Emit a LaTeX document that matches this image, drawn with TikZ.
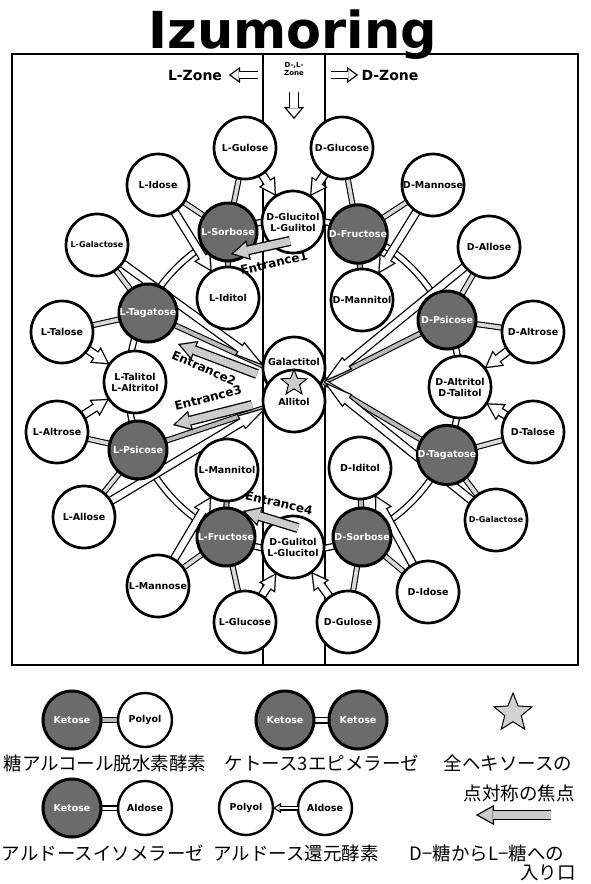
\documentclass[tikz,border=0pt]{standalone}
\usepackage{fontspec}
\newfontfamily\djv{DejaVu Sans}
\newfontfamily\cjk{Noto Sans CJK JP}
\usetikzlibrary{arrows.meta,shapes.geometric,calc}
\pgfdeclarelayer{bgA}\pgfdeclarelayer{bgB}\pgfsetlayers{bgA,bgB,main}
\newcommand\lab{\djv\bfseries\fontsize{9.5}{11}\selectfont}
\newcommand\slab{\djv\bfseries\fontsize{8}{10}\selectfont}
% block arrow: #1 shaft, #2 head width, #3 head length, #4 fill, #5 from, #6 to
\newcommand\blockarrow[6]{%
 \draw[line width=#1pt, -{Triangle[length=#3pt,width=#2pt,line width=0.1pt]}] (#5) -- (#6);
 \pgfmathsetmacro\ha{#2/2}\pgfmathsetmacro\al{atan(\ha/#3)}%
 \pgfmathsetmacro\tb{1.3/sin(\al)}%
 \pgfmathsetmacro\wl{#3-1.3-\tb}%
 \pgfmathsetmacro\ww{2*(\ha*(#3-1.3)/#3 - 1.3/cos(\al))}%
 \pgfmathsetmacro\sw{#1-2.6}%
 \draw[#4, line width=\sw pt, shorten >=\tb pt, -{Triangle[length=\wl pt,width=\ww pt,line width=0.1pt]}] (#5) -- (#6);
}
\begin{document}
\begin{tikzpicture}[x=1pt,y=-1pt,
  ald/.style={circle, draw, line width=2.7pt, fill=white, minimum size=62pt, inner sep=0pt, outer sep=0pt, font=\lab, align=center},
  pol/.style={ald},
  ket/.style={ald, fill=black!58, text=white, minimum size=58pt, line width=3pt},
  iso/.style={draw=black, line width=1.1pt, double=gray!30, double distance=3.8pt},
  dh/.style={draw=black, line width=1.1pt, double=gray!55, double distance=3.8pt},
  ringline/.style={draw=black, line width=1.3pt, double=white, double distance=4.4pt},
  kk/.style={draw=black, line width=1.3pt, double=white, double distance=4.4pt},
  ka/.style={draw=black, line width=1.1pt, double=white, double distance=3pt},
  etext/.style={font=\djv\bfseries\fontsize{12}{12}\selectfont},
  ztext/.style={font=\djv\bfseries\fontsize{14}{14}\selectfont},
  jp/.style={font=\cjk\fontsize{18.5}{20}\selectfont, inner sep=0pt},
  lstar/.style={star, star points=5, star point ratio=2.3, draw, line width=1pt, fill=gray!40, inner sep=0pt}
]
\useasboundingbox (0,0) rectangle (591,884);

% title
\node[font=\djv\bfseries\fontsize{51}{51}\selectfont, anchor=base, inner sep=0pt] (title) at (293,48) {Izumoring};

% zone labels
\node[ztext] (lzone) at (195,75) {L-Zone};
\node[ztext] (dzone) at (390,75) {D-Zone};
\node[font=\djv\bfseries\fontsize{7}{8}\selectfont, align=center] (dlzone) at (294,69) {D-,L-\\Zone};
\coordinate (lzs) at (258,75); \coordinate (lzt) at (229,75);
\coordinate (dzs) at (331,75); \coordinate (dzt) at (358,75);
\coordinate (dns) at (294,92); \coordinate (dnt) at (294,119);

% nodes
\node[ald] (lgul) at (245,148) {L-Gulose};
\node[ald] (dglc) at (342,148) {D-Glucose};
\node[ald] (lido) at (158,185) {L-Idose};
\node[ald] (dman) at (433,185) {D-Mannose};
\node[ket] (lsor) at (228,232) {L-Sorbose};
\node[pol] (dglct) at (293,222) {D-Glucitol\\L-Gulitol};
\node[ket] (dfru) at (358,234) {D-Fructose};
\node[ald, font=\slab] (lgala) at (97,245) {L-Galactose};
\node[ald] (dallo) at (489,247) {D-Allose};
\node[pol] (lidt) at (228,298) {L-Iditol};
\node[pol] (dmant) at (362,300) {D-Mannitol};
\node[ket] (ltag) at (148,313) {L-Tagatose};
\node[ket] (dpsi) at (447,320) {D-Psicose};
\node[ald] (ltal) at (62,332) {L-Talose};
\node[ald] (dalt) at (533,332) {D-Altrose};
\node[pol] (galt) at (294,368) {};
\node[pol] (allt) at (294,401) {};
\node[font=\lab] (galtT) at (294,362) {Galactitol};
\node[font=\lab] (alltT) at (294,402) {Allitol};
\node[pol] (ltalt) at (135,382) {L-Talitol\\L-Altritol};
\node[pol] (daltt) at (460,387) {D-Altritol\\D-Talitol};
\node[ald] (lalt) at (57,432) {L-Altrose};
\node[ald] (dtal) at (533,432) {D-Talose};
\node[ket] (lpsi) at (138,450) {L-Psicose};
\node[ket] (dtag) at (447,455) {D-Tagatose};
\node[pol] (lmant) at (227,470) {L-Mannitol};
\node[pol] (didt) at (360,468) {D-Iditol};
\node[ald] (lallo) at (84,517) {L-Allose};
\node[ald, font=\slab] (dgala) at (496,520) {D-Galactose};
\node[ket] (lfru) at (226,537) {L-Fructose};
\node[pol] (dgult) at (293,547) {D-Gulitol\\L-Glucitol};
\node[ket] (dsor) at (362,537) {D-Sorbose};
\node[ald] (lman) at (158,586) {L-Mannose};
\node[ald] (dido) at (428,592) {D-Idose};
\node[ald] (lglc) at (245,622) {L-Glucose};
\node[ald] (dgul) at (348,622) {D-Gulose};
\node[lstar, minimum size=27pt] (cstar) at (294,383) {};

\coordinate (gL) at (264,366);
\coordinate (aL) at (267,407);
\coordinate (cR) at (324,382);

\begin{pgfonlayer}{bgA}
 \fill[white] (0,0) rectangle (591,884);
 \draw[line width=1.3pt] (12,54) rectangle (578,665);
 \draw[line width=1.3pt] (263,54) -- (263,665);
 \draw[line width=1.3pt] (325,54) -- (325,665);
 \draw[ringline] (294,385) circle[radius=166pt];
\end{pgfonlayer}

\begin{pgfonlayer}{bgB}
 % isomerase
 \foreach \a/\b in {lgul/lsor, lido/lsor, dglc/dfru, dman/dfru, lgala/ltag, ltal/ltag,
   dallo/dpsi, dalt/dpsi, lalt/lpsi, lallo/lpsi, dtal/dtag, dgala/dtag,
   lman/lfru, lglc/lfru, dido/dsor, dgul/dsor}
   \draw[iso] (\a) -- (\b);
 % dehydrogenase
 \foreach \a/\b in {lsor/lidt, dfru/dmant, lfru/lmant, dsor/didt, ltag/gL, lpsi/aL, dpsi/cR, dtag/cR}
   \draw[dh] (\a) -- (\b);
 % reductase arrows
 \blockarrow{9}{19}{17}{white}{lgul}{dglct}
 \blockarrow{9}{19}{17}{white}{dglc}{dglct}
 \blockarrow{9}{19}{18}{white}{lido}{lidt}
 \blockarrow{9}{19}{18}{white}{dman}{dmant}
 \blockarrow{9}{19}{17}{white}{ltal}{ltalt}
 \blockarrow{9}{19}{17}{white}{lalt}{ltalt}
 \blockarrow{9}{19}{17}{white}{dalt}{daltt}
 \blockarrow{9}{19}{17}{white}{dtal}{daltt}
 \blockarrow{9}{19}{18}{white}{lman}{lmant}
 \blockarrow{9}{19}{17}{white}{lglc}{dgult}
 \blockarrow{9}{19}{17}{white}{dgul}{dgult}
 \blockarrow{9}{19}{18}{white}{dido}{didt}
 \blockarrow{9}{16}{30}{white}{lgala}{gL}
 \blockarrow{9}{16}{30}{white}{lallo}{aL}
 \blockarrow{9}{16}{30}{white}{dallo}{cR}
 \blockarrow{9}{16}{30}{white}{dgala}{cR}
\end{pgfonlayer}

% zone arrows
\blockarrow{8}{16}{11}{white}{lzs}{lzt}
\blockarrow{8}{16}{11}{white}{dzs}{dzt}
\blockarrow{10}{20}{12}{white}{dns}{dnt}

% entrances
\coordinate (e1s) at (290,241); \coordinate (e1t) at (231,254);
\coordinate (e2s) at (257,374); \coordinate (e2t) at (178,344);
\coordinate (e3s) at (252,405); \coordinate (e3t) at (173,425);
\coordinate (e4s) at (298,528); \coordinate (e4t) at (243,511);
\blockarrow{10}{20}{18}{gray!40}{e1s}{e1t}
\blockarrow{10}{20}{18}{gray!40}{e2s}{e2t}
\blockarrow{10}{20}{18}{gray!40}{e3s}{e3t}
\blockarrow{10}{20}{18}{gray!40}{e4s}{e4t}
\node[etext, rotate=13] (e1l) at (274,263) {Entrance1};
\node[etext, rotate=-24] (e2l) at (204,368) {Entrance2};
\node[etext, rotate=14] (e3l) at (208,398) {Entrance3};
\node[etext, rotate=-13] (e4l) at (279,503) {Entrance4};

% legend
\begin{scope}[ald/.append style={minimum size=54pt, line width=2.4pt}]
\node[ket, font=\lab] (k1) at (72,720) {Ketose};
\node[pol] (p1) at (145,720) {Polyol};
\node[ket] (k2) at (285,720) {Ketose};
\node[ket] (k3) at (358,720) {Ketose};
\node[ket] (k4) at (72,808) {Ketose};
\node[ald] (a4) at (145,808) {Aldose};
\node[pol] (p5) at (246,808) {Polyol};
\node[ald] (a5) at (325,808) {Aldose};
\end{scope}
\node[lstar, minimum size=40pt, fill=gray!35] (lstar2) at (513,713) {};
\begin{pgfonlayer}{bgB}
 \draw[dh] (k1) -- (p1);
 \draw[kk] (k2) -- (k3);
 \draw[ka] (k4) -- (a4);
\end{pgfonlayer}
\blockarrow{5}{10}{8}{white}{a5}{p5}
\coordinate (e5s) at (551,815); \coordinate (e5t) at (476,815);
\blockarrow{10}{20}{18}{gray!40}{e5s}{e5t}

\node[jp] (j1) at (105,763) {糖アルコール脱水素酵素};
\node[jp] (j2) at (322,763) {ケトース3エピメラーゼ};
\node[jp] (j3) at (508,763) {全ヘキソースの};
\node[jp] (j4) at (519,793) {点対称の焦点};
\node[jp] (j5) at (103,853) {アルドースイソメラーゼ};
\node[jp] (j6) at (296,853) {アルドース還元酵素};
\node[jp] (j7) at (487,853) {D−糖からL−糖への};
\node[jp] (j8) at (548,873) {入り口};
\end{tikzpicture}
\end{document}
